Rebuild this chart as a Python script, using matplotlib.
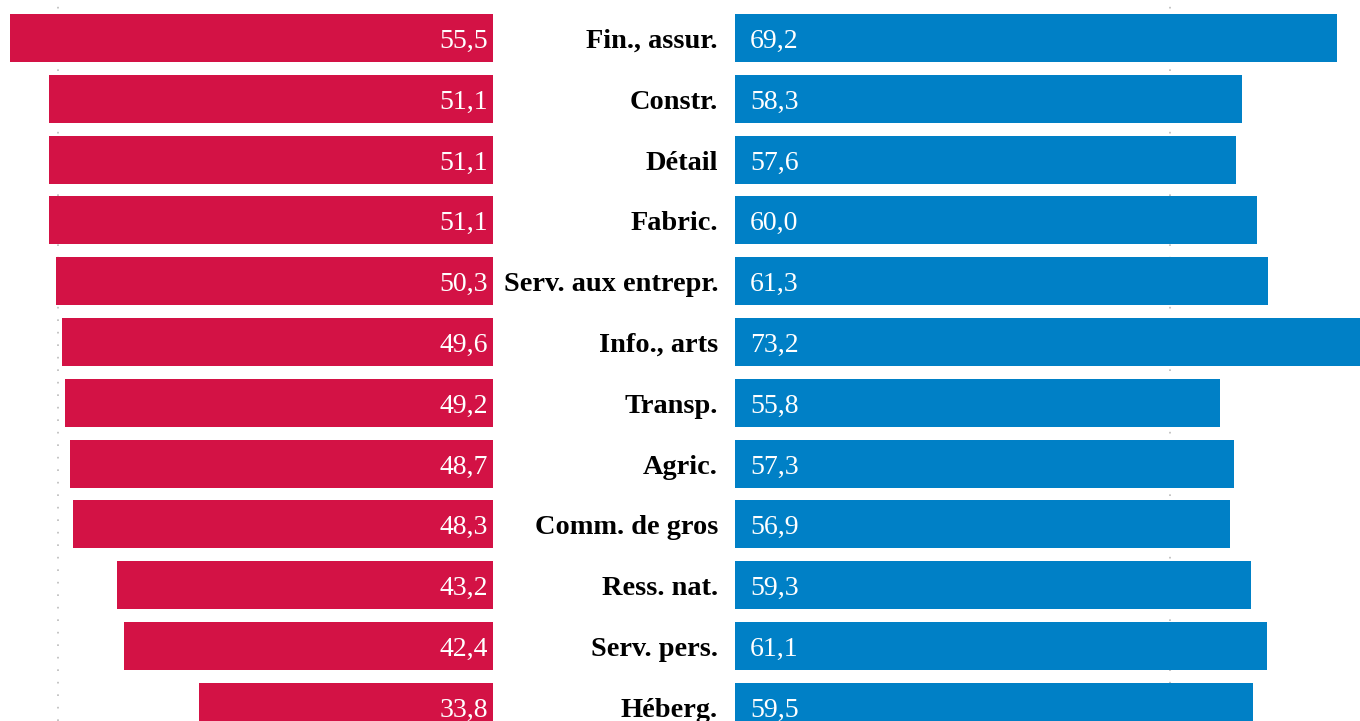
import matplotlib.pyplot as plt

# categories, top to bottom
secteurs = ["Fin., assur.", "Constr.", "Détail", "Fabric.", "Serv. aux entrepr.",
            "Info., arts", "Transp.", "Agric.", "Comm. de gros", "Ress. nat.",
            "Serv. pers.", "Héberg."]
gauche = [55.5, 51.1, 51.1, 51.1, 50.3, 49.6, 49.2, 48.7, 48.3, 43.2, 42.4, 33.8]
droite = [69.2, 58.3, 57.6, 60.0, 61.3, 73.2, 55.8, 57.3, 56.9, 59.3, 61.1, 59.5]
grille = [50]

rouge = "#d31245"
bleu = "#0080c6"
police = "Liberation Serif"
W, H = 1360, 721
px = 8.70          # pixels per unit
dy = 60.8          # pixels per row
y0 = 38            # first row centre, px from top
decal = 3.5 / dy   # text sits a bit low in the original

fig = plt.figure(figsize=(13.6, 7.21), dpi=100)
bord_g = 493.3
bord_d = 735.0
ax1 = fig.add_axes([0, 0, bord_g / W, 1])
ax2 = fig.add_axes([bord_d / W, 0, (W - bord_d) / W, 1])

ytop = -y0 / dy
ybot = (H - y0) / dy
rows = list(range(len(secteurs)))

ax1.barh(rows, gauche, height=0.79, color=rouge, zorder=2)
ax2.barh(rows, droite, height=0.79, color=bleu, zorder=2)

ax1.set_xlim(bord_g / px, 0)
ax2.set_xlim(0, (W - bord_d) / px)
for ax in (ax1, ax2):
    ax.set_ylim(ybot, ytop)
    ax.axis("off")
    for g in grille:
        ax.axvline(g, color="#bbbbbb", lw=1.2, ls=(0, (1, 6.5)), zorder=0)

for i, v in enumerate(gauche):
    ax1.text(5 / px, i + decal, f"{v:.1f}".replace(".", ","), ha="right", va="center",
             color="white", fontsize=20, family=police)
for i, v in enumerate(droite):
    ax2.text(15 / px, i + decal, f"{v:.1f}".replace(".", ","), ha="left", va="center",
             color="white", fontsize=20, family=police)
    ax2.text(-17 / px, i + decal, secteurs[i], ha="right", va="center", clip_on=False,
             fontsize=20.4, fontweight="bold", family=police, color="black")

fig.savefig("out.png", dpi=100)
